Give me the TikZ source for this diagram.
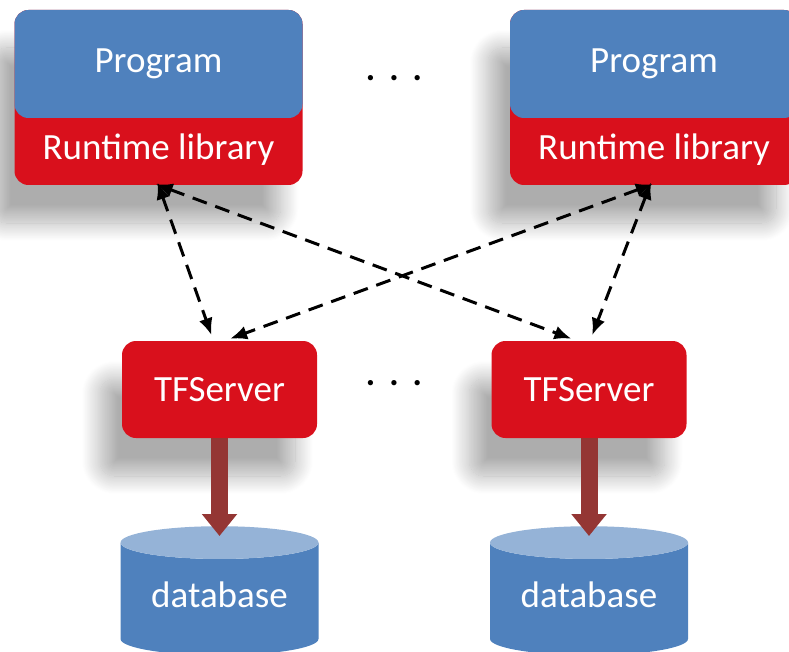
\documentclass[tikz,border=0pt]{standalone}
\usepackage{fontspec}
\setmainfont{Carlito}
\usetikzlibrary{arrows.meta,shapes.geometric,shadows.blur,positioning}
\definecolor{progblue}{HTML}{4F81BD}
\definecolor{libred}{HTML}{D9101C}
\definecolor{dbtop}{HTML}{95B3D7}
\definecolor{pipered}{HTML}{943634}

\begin{document}
\begin{tikzpicture}[x=1pt, y=-1pt,
    box/.style={rectangle, rounded corners=14pt, inner sep=0pt, text=white,
        font=\fontsize{37}{44}\selectfont},
    dropshade/.style={blur shadow={shadow xshift=-22pt, shadow yshift=-38pt,
        shadow blur radius=18pt, shadow blur steps=24, shadow opacity=32}},
    progbox/.style={box, fill=progblue, minimum width=288pt, minimum height=108pt},
    libbox/.style={box, fill=libred, minimum width=288pt, minimum height=175pt, dropshade},
    serverbox/.style={box, fill=libred, minimum width=195pt, minimum height=97pt, dropshade},
    dbnode/.style={cylinder, shape border rotate=90, aspect=0.24, cylinder uses custom fill,
        cylinder end fill=dbtop, cylinder body fill=progblue, minimum width=198pt,
        minimum height=129pt, inner sep=0pt, text depth=8pt, text=white,
        font=\fontsize{37}{44}\selectfont},
    link/.style={dashed, line width=3pt, dash pattern=on 15pt off 9pt,
        {Latex[length=17pt,width=14pt]}-{Latex[length=17pt,width=14pt]},
        shorten <=-3pt, shorten >=6pt},
    pipe/.style={pipered, line width=17pt, -{Triangle[length=22pt,width=34pt]}},
    dotsnode/.style={font=\fontsize{37}{44}\selectfont}]
    \useasboundingbox (0,0) rectangle (789,652);
    % clients: program on top of its runtime library
    \foreach \i/\x in {1/158.5, 2/654}{
        \node[libbox] (lib\i) at (\x,97.5) {};
        \node[progbox] (prog\i) at (\x,64) {Program};
        \node[box] (libtext\i) at (\x,150) {Runtime library};
    }
    % servers and their databases
    \foreach \i/\x in {1/219.5, 2/589}{
        \node[serverbox] (srv\i) at (\x,389.5) {TFServer};
        \node[dbnode] (db\i) at (\x,599) {database};
        \draw[pipe] (srv\i.south) -- ([yshift=-10pt]db\i.north);
    }
    \node[dotsnode] (dotstop) at (394,82) {·\hspace{14pt}·\hspace{14pt}·};
    \node[dotsnode] (dotsmid) at (394,387) {·\hspace{14pt}·\hspace{14pt}·};
    \draw[link] (lib1.south) -- ([xshift=-6pt]srv1.north);
    \draw[link] (lib1.south) -- ([xshift=-12pt]srv2.north);
    \draw[link] ([xshift=-4pt]lib2.south) -- ([xshift=5pt]srv1.north);
    \draw[link] ([xshift=-4pt]lib2.south) -- ([xshift=1pt]srv2.north);
\end{tikzpicture}
\end{document}
